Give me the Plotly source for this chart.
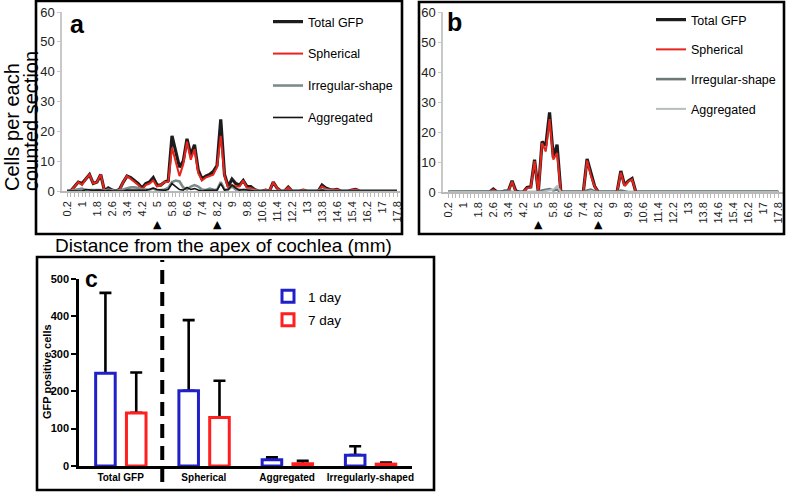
import plotly.graph_objects as go

W, H = 787, 493
FONT = "Arial, Liberation Sans, sans-serif"

# ---------------- data ----------------
DIST = [0.2, 0.4, 0.6, 0.8, 1.0, 1.2, 1.4, 1.6, 1.8, 2.0,
        2.2, 2.4, 2.6, 2.8, 3.0, 3.2, 3.4, 3.6, 3.8, 4.0,
        4.2, 4.4, 4.6, 4.8, 5.0, 5.2, 5.4, 5.6, 5.8, 6.0,
        6.2, 6.4, 6.6, 6.8, 7.0, 7.2, 7.4, 7.6, 7.8, 8.0,
        8.2, 8.4, 8.6, 8.8, 9.0, 9.2, 9.4, 9.6, 9.8, 10.0,
        10.2, 10.4, 10.6, 10.8, 11.0, 11.2, 11.4, 11.6, 11.8, 12.0,
        12.2, 12.4, 12.6, 12.8, 13.0, 13.2, 13.4, 13.6, 13.8, 14.0,
        14.2, 14.4, 14.6, 14.8, 15.0, 15.2, 15.4, 15.6, 15.8, 16.0,
        16.2, 16.4, 16.6, 16.8, 17.0, 17.2, 17.4, 17.6, 17.8]

TICK_LABELS = ["0.2", "1", "1.8", "2.6", "3.4", "4.2", "5", "5.8", "6.6", "7.4",
               "8.2", "9", "9.8", "10.6", "11.4", "12.2", "13", "13.8", "14.6",
               "15.4", "16.2", "17", "17.8"]
TICK_VALS = [float(s) for s in TICK_LABELS]

MARKS = [5.0, 8.2]  # arrowheads under the distance axis

# panel a (1 day)
A_TOTAL = [0, 0, 1.5, 3, 2.5, 4, 5.5, 2.5, 3, 5.5,
           0, 1, 0.3, 0, 0.5, 3, 5, 4.5, 3.5, 2.5,
           1, 2.5, 3, 4.5, 2, 2, 3, 3.5, 18.5, 13,
           8, 10, 17.5, 12, 15.5, 7, 4, 5, 5.5, 6.5,
           8.5, 24, 5.5, 1.5, 4, 2.5, 2, 3.5, 1.5, 1.5,
           0.5, 0, 0, 0.3, 0, 3, 1, 0, 0, 1.3,
           0, 0, 0, 0.3, 0, 0, 0, 0, 2, 1,
           0.5, 0.3, 0.5, 0, 0, 0, 0.3, 0.5, 0, 0,
           0, 0, 0, 0, 0, 0, 0, 0, 0]
A_SPH = [0, 0, 1.5, 3, 2, 4, 5.5, 2.5, 3, 5.5,
         0, 0.5, 0.2, 0, 0.3, 3, 5, 4, 3, 2,
         0.5, 2, 2.5, 3.5, 1.5, 2, 3, 3, 14.5, 9.5,
         5, 9, 16.5, 10.5, 14, 6, 3.5, 4.5, 5, 5.5,
         8, 18.5, 5, 1, 2, 1.5, 1.5, 3.5, 1, 1,
         0.5, 0, 0, 0.3, 0, 3, 1, 0, 0, 1.2,
         0, 0, 0, 0.3, 0, 0, 0, 0, 1.5, 0.8,
         0.4, 0.3, 0.5, 0, 0, 0, 0.3, 0.5, 0, 0,
         0, 0, 0, 0, 0, 0, 0, 0, 0]
A_IRR = [0, 0, 0.3, 0.5, 0.8, 0.3, 0.3, 0.2, 0.2, 0.3,
         0, 0.5, 0.2, 0, 0.2, 0.5, 1, 1.2, 1.2, 1,
         0.5, 0.5, 0.5, 0.8, 0.3, 0.3, 0.5, 1, 3, 3.5,
         3.2, 1.2, 0.5, 1.5, 2, 1.5, 0.5, 0.3, 0.8, 0.5,
         0.3, 3, 0.5, 0.5, 1.5, 0.5, 0.3, 0.3, 0.5, 0.3,
         0, 0, 0, 0, 0, 0.2, 0, 0, 0, 0.2,
         0, 0, 0, 0, 0, 0, 0, 0, 0.5, 0.3,
         0, 0, 0, 0, 0, 0, 0, 0, 0, 0,
         0, 0, 0, 0, 0, 0, 0, 0, 0]
A_AGG = [0, 0, 0, 0, 0, 0.5, 0.3, 0.2, 0.3, 0.3,
         0, 0.2, 0, 0, 0, 0, 0.3, 0.3, 0.5, 0.3,
         0.2, 0.2, 0.5, 1, 0.5, 0.3, 0.2, 0.5, 2.5, 1.5,
         0.5, 0.3, 1.2, 0.5, 0.8, 0.3, 0, 0.2, 0.3, 0.2,
         0.3, 2.5, 0.3, 0.5, 2, 1, 0.3, 0.5, 0.3, 0.2,
         0, 0, 0, 0, 0, 0, 0, 0, 0, 0,
         0, 0, 0, 0, 0, 0, 0, 0, 0.3, 0,
         0, 0, 0, 0, 0, 0, 0, 0, 0, 0,
         0, 0, 0, 0, 0, 0, 0, 0, 0]

# panel b (7 day)
B_TOTAL = [0, 0, 0, 0, 0, 0, 0, 0, 0, 0,
           0, 0, 1, 0, 0, 0.3, 0.3, 3.7, 0.3, 0,
           0, 1.5, 1.7, 10.8, 0, 16.8, 15.5, 26.5, 11.5, 15.8,
           0, 0, 0, 0, 0, 0, 0, 11, 6, 2,
           0, 0, 0, 0, 0, 0, 7, 2.3, 3.7, 4.5,
           0, 0, 0, 0, 0, 0, 0, 0, 0, 0,
           0, 0, 0, 0, 0, 0, 0, 0, 0, 0,
           0, 0, 0, 0, 0, 0, 0, 0, 0, 0,
           0, 0, 0, 0, 0, 0, 0, 0, 0]
B_SPH = [0, 0, 0, 0, 0, 0, 0, 0, 0, 0,
         0, 0, 0.8, 0, 0, 0.2, 0.2, 3.5, 0, 0,
         0, 1.3, 1.5, 10.3, 0, 16.3, 13.5, 24.3, 10.8, 13,
         0, 0, 0, 0, 0, 0, 0, 10.5, 5.5, 1.8,
         0, 0, 0, 0, 0, 0, 6.5, 2, 3.5, 4.2,
         0, 0, 0, 0, 0, 0, 0, 0, 0, 0,
         0, 0, 0, 0, 0, 0, 0, 0, 0, 0,
         0, 0, 0, 0, 0, 0, 0, 0, 0, 0,
         0, 0, 0, 0, 0, 0, 0, 0, 0]
B_IRR = [0, 0, 0, 0, 0, 0, 0, 0, 0, 0,
         0, 0, 0, 0, 0, 0.2, 0.3, 0, 0, 0,
         0, 0, 0, 0, 0, 0.5, 0.8, 1, 0.5, 0.8,
         0, 0, 0, 0, 0, 0, 0, 0.5, 0.8, 0.3,
         0, 0, 0, 0, 0, 0, 0.5, 0.2, 0, 0,
         0, 0, 0, 0, 0, 0, 0, 0, 0, 0,
         0, 0, 0, 0, 0, 0, 0, 0, 0, 0,
         0, 0, 0, 0, 0, 0, 0, 0, 0, 0,
         0, 0, 0, 0, 0, 0, 0, 0, 0]
B_AGG = [0, 0, 0, 0, 0, 0, 0, 0, 0, 0,
         0, 0, 0, 0, 0, 0, 0, 0, 0, 0,
         0, 0, 0, 0, 0, 0, 0.3, 0.5, 0.8, 2,
         0, 0, 0, 0, 0, 0, 0, 0, 0.3, 0,
         0, 0, 0, 0, 0, 0, 0, 0, 0, 0,
         0, 0, 0, 0, 0, 0, 0, 0, 0, 0,
         0, 0, 0, 0, 0, 0, 0, 0, 0, 0,
         0, 0, 0, 0, 0, 0, 0, 0, 0, 0,
         0, 0, 0, 0, 0, 0, 0, 0, 0]

# panel c
C_CATS = ["Total GFP", "Spherical", "Aggregated", "Irregularly-shaped"]
DAY1 = [248, 201, 17, 29]
DAY1_ERR = [215, 189, 6, 24]
DAY7 = [142, 130, 6, 5]
DAY7_ERR = [108, 98, 8, 4]

# ---------------- helpers (pixel -> paper) ----------------
def px(x):
    return x / W


def py(y):
    return 1 - y / H


fig = go.Figure()

SER_A = [("Total GFP", A_TOTAL, "#1c1c1c", 3.2),
         ("Spherical", A_SPH, "#e8241c", 2),
         ("Irregular-shape", A_IRR, "#7e8b8b", 2.6),
         ("Aggregated", A_AGG, "#151515", 1.6)]
SER_B = [("Total GFP", B_TOTAL, "#1c1c1c", 3.2),
         ("Spherical", B_SPH, "#e8241c", 2),
         ("Irregular-shape", B_IRR, "#6d7878", 2.6),
         ("Aggregated", B_AGG, "#b3bebe", 2)]

for i, (name, vals, col, w) in enumerate(SER_A):
    fig.add_trace(go.Scatter(x=DIST, y=vals, name=name, mode="lines",
                             line=dict(color=col, width=w),
                             xaxis="x", yaxis="y", legend="legend",
                             legendgroup="a%d" % i))
for i, (name, vals, col, w) in enumerate(SER_B):
    fig.add_trace(go.Scatter(x=DIST, y=vals, name=name, mode="lines",
                             line=dict(color=col, width=w),
                             xaxis="x2", yaxis="y2", legend="legend2",
                             legendgroup="b%d" % i))

# panel c: error bars (drawn first so bar outlines sit over their base caps)
BW = 0.235
OFF1, OFF7 = -0.30, 0.07
for vals, err, off in ((DAY1, DAY1_ERR, OFF1), (DAY7, DAY7_ERR, OFF7)):
    fig.add_trace(go.Bar(x=C_CATS, y=vals, width=BW, offset=off,
                         marker=dict(color="rgba(0,0,0,0)", line=dict(width=0)),
                         error_y=dict(type="data", array=err, arrayminus=[0] * len(err),
                                      symmetric=False, color="black", thickness=2.6, width=6),
                         showlegend=False, hoverinfo="skip", xaxis="x3", yaxis="y3"))
fig.add_trace(go.Bar(x=C_CATS, y=DAY1, width=BW, offset=OFF1, name="1 day",
                     marker=dict(color="white", line=dict(color="#2020c8", width=3)),
                     xaxis="x3", yaxis="y3", legend="legend3", legendgroup="c1"))
fig.add_trace(go.Bar(x=C_CATS, y=DAY7, width=BW, offset=OFF7, name="7 day",
                     marker=dict(color="white", line=dict(color="#ff1f1f", width=3)),
                     xaxis="x3", yaxis="y3", legend="legend3", legendgroup="c2"))

grey = "#b8b8b8"
dist_x = dict(tickmode="array", tickvals=TICK_VALS, ticktext=TICK_LABELS,
              tickangle=-90, tickfont=dict(size=11, color="#222", family=FONT),
              showline=True, linecolor=grey, linewidth=1.5,
              ticks="outside", ticklen=4, tickcolor=grey, tickwidth=1,
              minor=dict(tickmode="array", tickvals=DIST, ticks="outside",
                         ticklen=4, tickcolor=grey, tickwidth=1, showgrid=False),
              showgrid=False, zeroline=False, automargin=False)
cnt_y = dict(range=[0, 60], dtick=10, showline=True, linecolor="#c8c8c8", linewidth=1.5,
             ticks="outside", ticklen=3, tickcolor="#c8c8c8",
             tickfont=dict(size=13, color="#222", family=FONT),
             showgrid=False, zeroline=False, automargin=False)

fig.update_layout(
    template="none",
    width=W, height=H, margin=dict(l=0, r=0, t=0, b=0, pad=0, autoexpand=False),
    paper_bgcolor="white", plot_bgcolor="rgba(0,0,0,0)",
    font=dict(family=FONT, color="black"),
    barmode="overlay", showlegend=True,
    xaxis=dict(dist_x, domain=[px(62), px(400)], range=[-0.067, 17.96], anchor="y"),
    yaxis=dict(cnt_y, domain=[py(191), py(12)], anchor="x"),
    xaxis2=dict(dist_x, domain=[px(443), px(783)], range=[-0.083, 18.05], anchor="y2"),
    yaxis2=dict(cnt_y, domain=[py(192), py(12)], anchor="x2"),
    xaxis3=dict(domain=[px(79), px(412)], range=[-0.5, 3.5], anchor="y3",
                showline=True, linecolor="black", linewidth=2.6, ticks="",
                tickfont=dict(size=10, family=FONT, weight="bold", color="black"),
                showgrid=False, zeroline=False, automargin=False),
    yaxis3=dict(domain=[py(466), py(279)], range=[0, 500], dtick=100, anchor="x3",
                showline=True, linecolor="black", linewidth=2.6,
                ticks="outside", ticklen=5, tickwidth=2, tickcolor="black",
                tickfont=dict(size=11, family=FONT, weight="bold", color="black"),
                showgrid=False, zeroline=False, automargin=False),
    legend=dict(x=px(268), y=py(7), xanchor="left", yanchor="top",
                bgcolor="rgba(0,0,0,0)", borderwidth=0, traceorder="grouped",
                tracegroupgap=12.7, font=dict(size=12.5, family=FONT, color="black")),
    legend2=dict(x=px(651), y=py(5), xanchor="left", yanchor="top",
                 bgcolor="rgba(0,0,0,0)", borderwidth=0, traceorder="grouped",
                 tracegroupgap=10.5, font=dict(size=12.5, family=FONT, color="black")),
    legend3=dict(x=px(268), y=py(281), xanchor="left", yanchor="top",
                 bgcolor="rgba(0,0,0,0)", borderwidth=0, traceorder="grouped",
                 tracegroupgap=3, font=dict(size=13.5, family=FONT, color="black")),
)

# panel frames
for (x0, y0, x1, y1) in ((36, 1, 402, 234), (419, 2, 784, 234), (37, 257, 434, 490)):
    fig.add_shape(type="rect", xref="paper", yref="paper",
                  x0=px(x0), x1=px(x1), y0=py(y1), y1=py(y0),
                  line=dict(color="black", width=2.6), fillcolor="rgba(0,0,0,0)")

# dashed separator in panel c
fig.add_shape(type="line", xref="x3", yref="paper", x0=0.5, x1=0.5,
              y0=py(482), y1=py(260), line=dict(color="black", width=4, dash="14px,8px"))

# arrowheads under the distance axes (positions from MARKS)
for xr in ("x", "x2"):
    for m in MARKS:
        fig.add_annotation(xref=xr, yref="paper", x=m, y=py(233), showarrow=False,
                           text="\u25B2", xanchor="center", yanchor="bottom",
                           font=dict(size=11, color="black", family="DejaVu Sans"))

ann = [
    dict(text="a", x=px(77), y=py(24), font=dict(size=25, weight="bold")),
    dict(text="b", x=px(454), y=py(22), font=dict(size=25, weight="bold")),
    dict(text="c", x=px(91), y=py(279), font=dict(size=23, weight="bold")),
    dict(text="Distance from the apex of cochlea (mm)", x=px(223), y=py(245),
         font=dict(size=19)),
]
for a in ann:
    fig.add_annotation(xref="paper", yref="paper", showarrow=False,
                       xanchor="center", yanchor="middle", **a)
for txt, xc in (("Cells per each", 12), ("counted section", 31)):
    fig.add_annotation(xref="paper", yref="paper", showarrow=False, text=txt,
                       textangle=-90, x=px(xc), y=py(193), xanchor="center",
                       yanchor="bottom", font=dict(size=20))
fig.add_annotation(xref="paper", yref="paper", showarrow=False, text="GFP positive cells",
                   textangle=-90, x=px(47), y=py(372), xanchor="center", yanchor="middle",
                   font=dict(size=11, weight="bold"))

fig.write_html("out.html", config={"displayModeBar": False},
               post_script="document.body.style.margin='0px';")
